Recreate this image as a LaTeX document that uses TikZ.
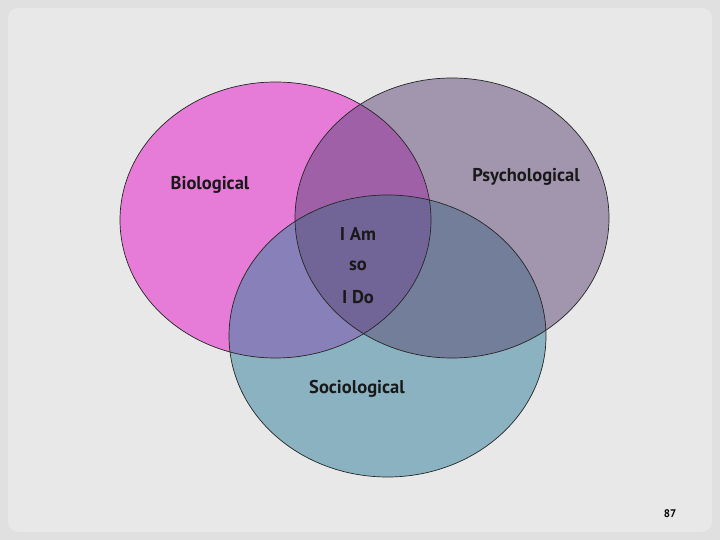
\documentclass[tikz,border=0pt]{standalone}
\usepackage{fontspec}
\setmainfont{PT Sans}
\begin{document}
\begin{tikzpicture}[x=1bp,y=-1bp,
  lbl/.style={font=\bfseries\fontsize{18.5bp}{20bp}\selectfont, text=black!90, inner sep=0pt},
  outline/.style={draw=black!85, line width=0.7bp}]
\definecolor{bgout}{HTML}{E0E0E0}
\definecolor{bgin}{HTML}{E8E8E8}
\definecolor{bio}{HTML}{E67CD8}
\definecolor{psy}{HTML}{A296AF}
\definecolor{soc}{HTML}{8AB2C0}
\definecolor{bp}{HTML}{A060A8}
\definecolor{bs}{HTML}{8880B8}
\definecolor{ps}{HTML}{737E9A}
\definecolor{bps}{HTML}{716597}
\fill[bgout] (0,0) rectangle (720,540);
\useasboundingbox (0,0) rectangle (720,540);
\fill[bgin, rounded corners=10bp] (8,8) rectangle (712,532);
\def\bioE{(275.5,220) ellipse [x radius=155.5bp, y radius=138bp]}
\def\psyE{(452,218) ellipse [x radius=157bp, y radius=140bp]}
\def\socE{(387.5,336) ellipse [x radius=158.5bp, y radius=141bp]}
\fill[bio] \bioE;
\fill[psy] \psyE;
\fill[soc] \socE;
\begin{scope}\clip \bioE; \fill[bp] \psyE; \end{scope}
\begin{scope}\clip \bioE; \fill[bs] \socE; \end{scope}
\begin{scope}\clip \psyE; \fill[ps] \socE; \end{scope}
\begin{scope}\clip \bioE; \clip \psyE; \fill[bps] \socE; \end{scope}
\draw[outline] \bioE;
\draw[outline] \psyE;
\draw[outline] \socE;
\node[lbl] (b) at (210,185) {Biological};
\node[lbl] (p) at (526,177) {Psychological};
\node[lbl] (c1) at (358,234) {I Am};
\node[lbl] (c2) at (358,266) {so};
\node[lbl] (c3) at (358,297) {I Do};
\node[lbl] (s) at (357,389) {Sociological};
\node[font=\bfseries\fontsize{11bp}{12bp}\selectfont, inner sep=0pt] (n) at (670,514) {87};
\end{tikzpicture}
\end{document}
